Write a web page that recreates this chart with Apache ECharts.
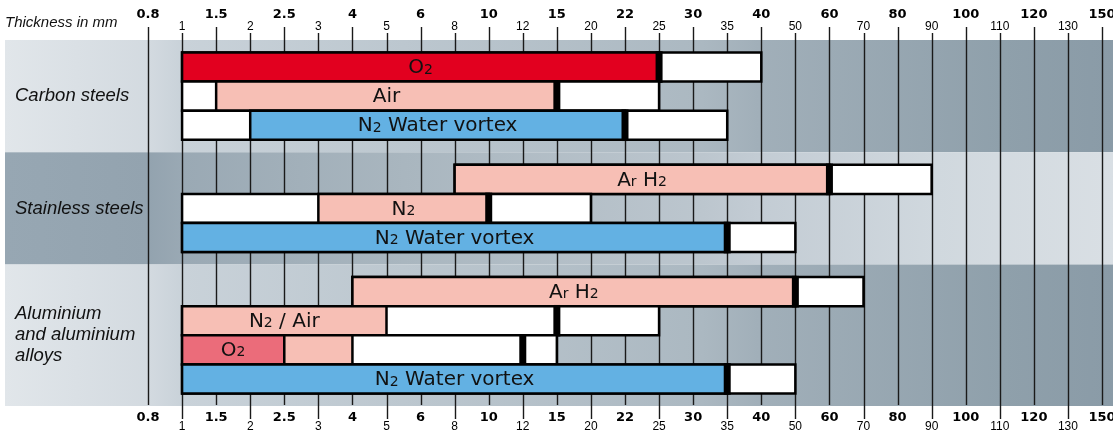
<!DOCTYPE html>
<html>
<head>
<meta charset="utf-8">
<script src="https://cdn.jsdelivr.net/npm/echarts@6/dist/echarts.min.js"></script>
<style>
html, body { margin: 0; padding: 0; background: #fff; }
#chart { width: 1113px; height: 430px; }
</style>
</head>
<body>
<div id="chart"></div>
<script>
// thickness scale (evenly spaced steps, not linear)
var ticks = ['0.8', '1', '1.5', '2', '2.5', '3', '4', '5', '6', '8', '10', '12', '15', '20', '22',
             '25', '30', '35', '40', '50', '60', '70', '80', '90', '100', '110', '120', '130', '150'];
var materials = ['Carbon steels', 'Stainless steels', 'Aluminium\nand aluminium\nalloys'];
var rowsPerMaterial = [3, 3, 4];

// one entry per bar row, top to bottom
var gasLabels = ['O2', 'Air', 'N2 Water vortex', 'Ar H2', 'N2', 'N2 Water vortex',
                 'Ar H2', 'N2 / Air', 'O2', 'N2 Water vortex'];
var rangeFrom = [1, 1, 1, 8, 1, 1, 4, 1, 1, 1];
var rangeTo   = [40, 25, 35, 90, 20, 50, 70, 25, 15, 50];
var markAt    = [25, 15, 22, 60, 10, 35, 50, 15, 12, 35];
var fills = [
    [[1, 25, 'red']],
    [[1.5, 15, 'pink']],
    [[2, 22, 'blue']],
    [[8, 60, 'pink']],
    [[3, 10, 'pink']],
    [[1, 35, 'blue']],
    [[4, 50, 'pink']],
    [[1, 5, 'pink']],
    [[1, 2.5, 'rose'], [2.5, 4, 'pink']],
    [[1, 35, 'blue']]
];

var colors = { red: '#e2001f', pink: '#f7bfb5', blue: '#63b1e3', rose: '#eb6c7a' };

function pos(v) {
    return ticks.indexOf(String(v));
}

// vertical layout in row units
var pad = 0.43;
var bandStart = [], bandEnd = [], rowCenter = [];
var acc = 0;
rowsPerMaterial.forEach(function (n) {
    bandStart.push(acc);
    for (var r = 0; r < n; r++) {
        rowCenter.push(acc + pad + r + 0.5);
    }
    acc += n + 2 * pad;
    bandEnd.push(acc);
});
var yMax = acc;

var lightStops = [
    { offset: 0, color: '#e1e6ea' }, { offset: 0.13, color: '#d3dae0' },
    { offset: 0.16, color: '#c9d2d9' }, { offset: 0.36, color: '#bcc7cf' },
    { offset: 0.63, color: '#abb8c1' }, { offset: 0.68, color: '#a1afb9' },
    { offset: 0.9, color: '#8fa0ab' }, { offset: 1, color: '#8a9ba7' }
];
var darkStops = [
    { offset: 0, color: '#97a7b3' }, { offset: 0.13, color: '#93a3af' },
    { offset: 0.16, color: '#9aa9b4' }, { offset: 0.36, color: '#a9b6bf' },
    { offset: 0.63, color: '#bcc6ce' }, { offset: 0.68, color: '#c3ccd4' },
    { offset: 0.84, color: '#d0d8de' }, { offset: 1, color: '#d9dfe4' }
];

function gasRich(s) {
    return s.replace('Ar', 'A{s|r}').replace(/(\d)/g, '{s|$1}');
}

var chart = echarts.init(document.getElementById('chart'));

function renderBand(params, api) {
    var g = params.dataIndex;
    var y0 = api.coord([0, api.value(1)])[1];
    var y1 = api.coord([0, api.value(2)])[1];
    var W = api.getWidth();
    var grad = new echarts.graphic.LinearGradient(5, 0, W, 0, g === 1 ? darkStops : lightStops, true);
    return {
        type: 'group',
        children: [
            { type: 'rect', shape: { x: 5, y: y0, width: W - 5, height: y1 - y0 }, style: { fill: grad } },
            {
                type: 'text', x: 15, y: (y0 + y1) / 2,
                style: {
                    text: materials[g], fill: '#111', fontSize: 18.5, fontStyle: 'italic',
                    fontFamily: 'Liberation Sans', lineHeight: 21, align: 'left', verticalAlign: 'middle'
                }
            }
        ]
    };
}

function renderGridLine(params, api) {
    var i = api.value(0);
    var x = Math.round(api.coord([i, 0])[0]) + 0.5;
    var bold = i % 2 === 0;
    return {
        type: 'line',
        shape: { x1: x, y1: bold ? 27 : 33, x2: x, y2: bold ? 405 : 419 },
        style: { stroke: '#1a1a1a', lineWidth: 1.4 }
    };
}

function renderRow(params, api) {
    var i = params.dataIndex;
    var yc = api.value(2);
    var top = api.coord([0, yc - 0.5])[1];
    var bottom = api.coord([0, yc + 0.5])[1];
    var h = bottom - top;
    var x0 = api.coord([api.value(0), yc])[0];
    var x1 = api.coord([api.value(1), yc])[0];
    var lw = 2.5;
    var children = [{
        type: 'rect', shape: { x: x0, y: top, width: x1 - x0, height: h },
        style: { fill: '#fff', stroke: '#000', lineWidth: lw }
    }];
    var lx = 0;
    fills[i].forEach(function (f, k) {
        var a = api.coord([pos(f[0]), yc])[0];
        var b = api.coord([pos(f[1]), yc])[0];
        if (k === 0) lx = (a + b) / 2;
        children.push({
            type: 'rect', shape: { x: a, y: top, width: b - a, height: h },
            style: { fill: colors[f[2]], stroke: '#000', lineWidth: lw }
        });
    });
    var xm = api.coord([api.value(3), yc])[0];
    children.push({
        type: 'rect', shape: { x: xm - 3.5, y: top - lw / 2, width: 7, height: h + lw },
        style: { fill: '#000' }
    });
    children.push({
        type: 'text', x: lx, y: (top + bottom) / 2 + 1,
        style: {
            text: gasRich(gasLabels[i]), align: 'center', verticalAlign: 'middle',
            fontFamily: 'DejaVu Sans', fontSize: 20, fill: '#111',
            rich: {
                s: { fontFamily: 'DejaVu Sans', fontSize: 14, fill: '#111', verticalAlign: 'bottom', padding: [0, 0, 1, 0] }
            }
        }
    });
    return { type: 'group', children: children };
}

function axisLabels(top) {
    return {
        margin: top ? 7 : 5,
        formatter: function (v) {
            return (v % 2 === 0 ? '{b|' : '{s|') + ticks[v] + '}';
        },
        rich: {
            b: {
                fontFamily: 'DejaVu Sans', fontWeight: 'bold', fontSize: 13, color: '#000',
                padding: top ? [0, 0, 12, 0] : [0, 0, 0, 0]
            },
            s: {
                fontFamily: 'Liberation Sans', fontSize: 12, color: '#000',
                padding: top ? [0, 0, 0, 0] : [10, 0, 0, 0]
            }
        }
    };
}

function xAxisDef(position) {
    return {
        type: 'value', position: position, min: 0, max: ticks.length - 1, interval: 1,
        axisLine: { show: false }, axisTick: { show: false }, splitLine: { show: false },
        axisLabel: axisLabels(position === 'top')
    };
}

var option = {
    animation: false,
    grid: { left: 148, right: 11, top: 40, bottom: 24, containLabel: false, outerBoundsMode: 'none' },
    xAxis: [xAxisDef('top'), xAxisDef('bottom')],
    yAxis: { type: 'value', inverse: true, min: 0, max: yMax, show: false },
    graphic: [{
        type: 'text', left: 5, top: 15,
        style: { text: 'Thickness in mm', fontSize: 15, fontStyle: 'italic', fontFamily: 'Liberation Sans', fill: '#111' }
    }],
    series: [
        {
            type: 'custom', name: 'bands', z: 1, clip: false,
            renderItem: renderBand,
            data: materials.map(function (m, g) { return [0, bandStart[g], bandEnd[g]]; })
        },
        {
            type: 'custom', name: 'grid', z: 2, clip: false,
            renderItem: renderGridLine,
            data: ticks.map(function (t, i) { return [i]; })
        },
        {
            type: 'custom', name: 'rows', z: 3, clip: false,
            renderItem: renderRow,
            data: gasLabels.map(function (g, i) {
                return [pos(rangeFrom[i]), pos(rangeTo[i]), rowCenter[i], pos(markAt[i])];
            })
        }
    ]
};

chart.setOption(option);
</script>
</body>
</html>
